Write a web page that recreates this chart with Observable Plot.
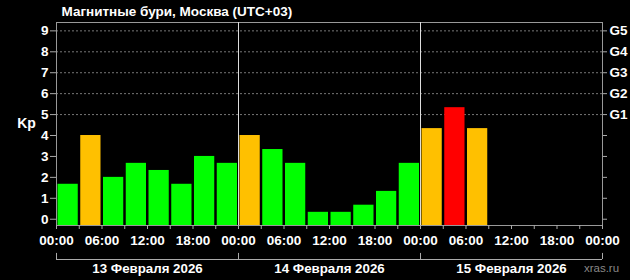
<!DOCTYPE html>
<html>
<head>
<meta charset="utf-8">
<script src="https://cdn.jsdelivr.net/npm/d3@7"></script>
<script src="https://cdn.jsdelivr.net/npm/@observablehq/plot@0.6"></script>
<style>
  html, body { margin: 0; padding: 0; background: #000; }
  #chart svg { display: block; }
</style>
</head>
<body>
<div id="chart"></div>
<script>
const title = "Магнитные бури, Москва (UTC+03)";
const dayLabels = ["13 Февраля 2026", "14 Февраля 2026", "15 Февраля 2026"];
const kpValues = [
  1.67, 4.0, 2.0, 2.67, 2.33, 1.67, 3.0, 2.67,
  4.0, 3.33, 2.67, 0.33, 0.33, 0.67, 1.33, 2.67,
  4.33, 5.33, 4.33
];
const slotHours = 3;
const yTicks = [0, 1, 2, 3, 4, 5, 6, 7, 8, 9];
const gLevels = [5, 6, 7, 8, 9];
const gLabels = ["G1", "G2", "G3", "G4", "G5"];
const yMin = -0.3, yMax = 9.4;

function kpColor(v) {
  if (v < 4) return "#00ff00";
  if (v < 5) return "#ffc000";
  return "#ff0000";
}
const bars = kpValues.map((v, i) => ({t: i * slotHours, kp: v, color: kpColor(v)}));
const days = dayLabels.map((label, i) => ({start: i * 24, label}));
const hh = h => String(h % 24).padStart(2, "0") + ":00";

const chart = Plot.plot({
  width: 630,
  height: 280,
  marginLeft: 56,
  marginRight: 28,
  marginTop: 22,
  marginBottom: 55,
  style: {
    background: "#000",
    color: "#fff",
    fontFamily: "'Liberation Sans', Arial, sans-serif",
    fontSize: "13.5px",
    fontWeight: "bold"
  },
  x: {domain: [0, 72]},
  y: {domain: [yMin, yMax]},
  color: {type: "identity"},
  marks: [
    Plot.ruleY(gLevels, {stroke: "#777", strokeDasharray: "2,2", strokeWidth: 1}),
    Plot.rect(bars, {
      x1: "t", x2: d => d.t + slotHours, y1: yMin, y2: "kp",
      fill: "color", insetLeft: 1.5, insetRight: 1
    }),
    Plot.frame({stroke: "#999"}),
    Plot.ruleX([24, 48], {stroke: "#ddd", strokeWidth: 1}),
    Plot.axisY({ticks: yTicks, tickSize: 6, tickPadding: 2, stroke: "#aaa", label: null, tickFormat: d => String(d)}),
    Plot.axisY({anchor: "right", ticks: yTicks, tickSize: 4, tickPadding: 3, stroke: "#aaa", label: null,
      tickFormat: d => d >= 5 ? gLabels[d - 5] : ""}),
    Plot.axisX({ticks: d3.range(0, 73, 3), tickSize: 4, stroke: "#aaa", tickFormat: () => "", label: null}),
    Plot.axisX({ticks: d3.range(0, 73, 6), tickSize: 0, tickPadding: 10, tickFormat: hh, label: null}),
    Plot.ruleY([yMin], {dy: 34, stroke: "#aaa"}),
    Plot.ruleX([0, 24, 48, 72], {y1: yMin, y2: yMin + 0.29, dy: 34, stroke: "#aaa"}),
    Plot.text(days, {x: d => d.start + 12, y: yMin, dy: 43, text: "label", fill: "#fff", fontSize: 13.3, fontWeight: "bold"}),
    Plot.text(["xras.ru"], {frameAnchor: "bottom-right", lineAnchor: "middle", dx: -1, dy: 43, textAnchor: "middle", fill: "#888", fontSize: 11.5, fontWeight: "normal"}),
    Plot.text(["Kp"], {frameAnchor: "left", dx: -30, textAnchor: "middle", fill: "#fff", fontSize: 14, fontWeight: "bold"}),
    Plot.text([title], {frameAnchor: "top-left", lineAnchor: "middle", dx: 5, dy: -11, textAnchor: "start", fill: "#fff", fontSize: 13.5, fontWeight: "bold"})
  ]
});
document.getElementById("chart").appendChild(chart);
</script>
</body>
</html>
